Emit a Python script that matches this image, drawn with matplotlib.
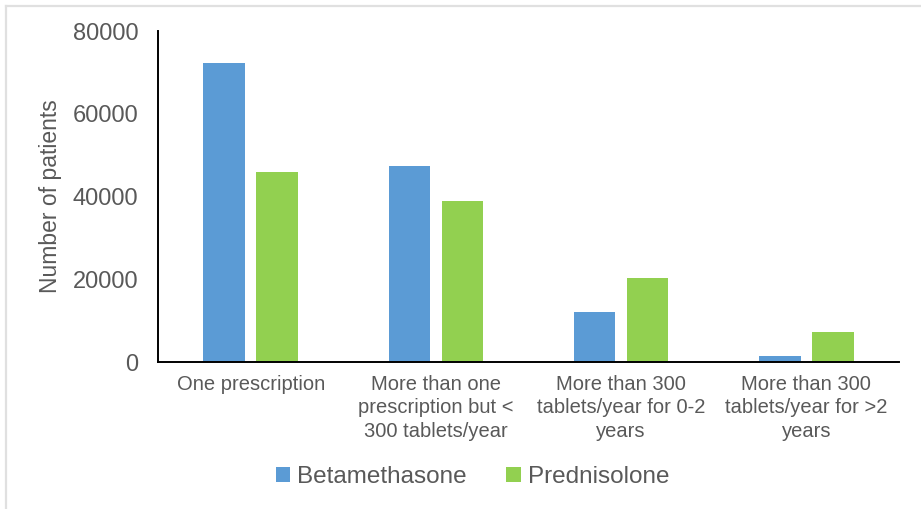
import matplotlib.pyplot as plt
import numpy as np
from matplotlib.lines import Line2D

# Datos
categories = [
    "One prescription",
    "More than one\nprescription but <\n300 tablets/year",
    "More than 300\ntablets/year for 0-2\nyears",
    "More than 300\ntablets/year for >2\nyears",
]
betamethasone = [72300, 47300, 12100, 1400]
prednisolone = [45900, 38900, 20400, 7200]
y_ticks = [0, 20000, 40000, 60000, 80000]

plt.rcParams['font.family'] = ['Liberation Sans', 'DejaVu Sans']
text_color = '#595959'

fig = plt.figure(figsize=(9.21, 5.09), dpi=100)
ax = fig.add_axes([0.1716, 0.2888, 0.976 - 0.1716, 0.939 - 0.2888])

x = np.arange(len(categories))
w = 0.224
off = 0.143
ax.bar(x - off, betamethasone, w, color='#5B9BD5', label='Betamethasone')
ax.bar(x + off, prednisolone, w, color='#92D050', label='Prednisolone')

ax.set_xlim(-0.5, len(categories) - 0.5)
ax.set_ylim(0, 80000)
ax.set_yticks(y_ticks)
ax.set_yticklabels([str(v) for v in y_ticks])
ax.set_xticks(x)
ax.set_xticklabels(categories, linespacing=1.33)

ax.tick_params(axis='y', length=0, pad=14, labelsize=17, labelcolor=text_color)
ax.tick_params(axis='x', length=0, pad=9, labelsize=14.5, labelcolor=text_color)
ax.set_ylabel('Number of patients', fontsize=16.5, color=text_color, labelpad=8)

for s in ['top', 'right']:
    ax.spines[s].set_visible(False)
for s in ['left', 'bottom']:
    ax.spines[s].set_color('black')
    ax.spines[s].set_linewidth(1.4)

fig.legend(loc='center', bbox_to_anchor=(0.513, 1 - 477 / 509), ncol=2,
           frameon=False, fontsize=17.5, handlelength=0.6, handleheight=0.6,
           handletextpad=0.3, columnspacing=1.6, labelcolor=text_color)

# Marco gris alrededor de la figura
fig.add_artist(Line2D([6 / 921, 1], [1 - 6 / 509, 1 - 6 / 509],
                      transform=fig.transFigure, color='#E0E0E0', lw=1.6))
fig.add_artist(Line2D([6 / 921, 6 / 921], [0, 1 - 6 / 509],
                      transform=fig.transFigure, color='#E0E0E0', lw=1.6))

fig.savefig('out.png', dpi=100)
